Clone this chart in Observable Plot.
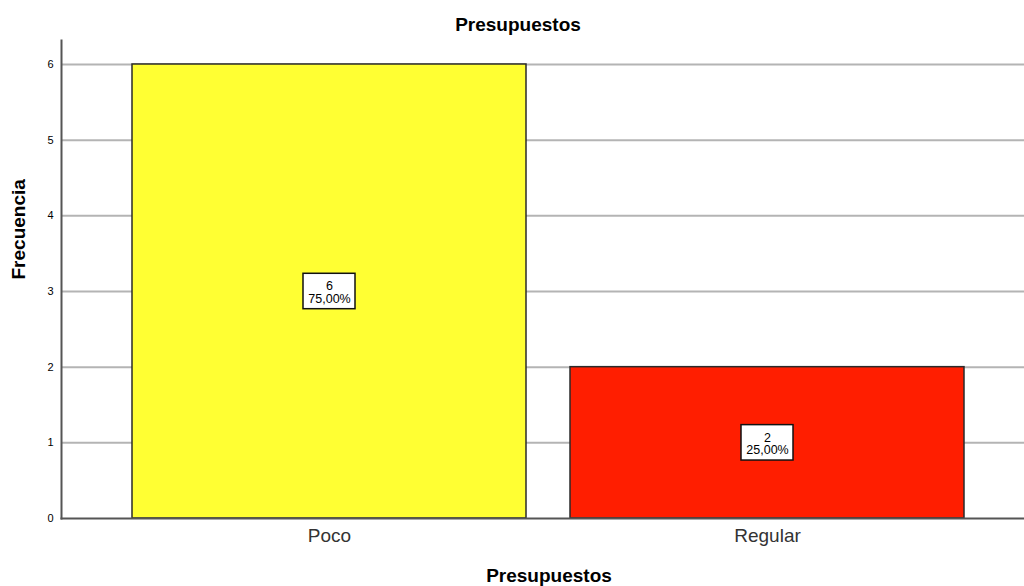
<!DOCTYPE html>
<html>
<head>
<meta charset="utf-8">
<script src="https://cdn.jsdelivr.net/npm/d3@7"></script>
<script src="https://cdn.jsdelivr.net/npm/@observablehq/plot@0.6"></script>
<style>
  html, body { margin: 0; padding: 0; background: #fff; }
  #chart svg { display: block; }
</style>
</head>
<body>
<div id="chart"></div>
<script>
const categories = ["Poco", "Regular"];
const counts = [6, 2];
const percentLabels = ["75,00%", "25,00%"];
const barColors = ["#ffff33", "#ff1e00"];
const yTicks = [0, 1, 2, 3, 4, 5, 6];
const gridTicks = [1, 2, 3, 4, 5, 6];
const chartTitle = "Presupuestos";
const xTitle = "Presupuestos";
const yTitle = "Frecuencia";

const data = categories.map((c, i) => ({
  cat: c, n: counts[i], pct: percentLabels[i], color: barColors[i],
  label: counts[i] + "\n" + percentLabels[i]
}));

const boxHalf = 0.234; // half-height of the label box, in frequency units

const font = "Liberation Sans, Arial, sans-serif";

const chart = Plot.plot({
  width: 1024,
  height: 586,
  marginTop: 40,
  marginBottom: 68,
  marginLeft: 61,
  marginRight: 0,
  style: { fontFamily: font, background: "#fff" },
  x: { type: "band", domain: categories, range: [88, 1008], padding: 0.1, label: null },
  y: { domain: [0, 6.317], label: null },
  marks: [
    Plot.ruleY(gridTicks, { stroke: "#b4b4b4", strokeWidth: 2 }),
    Plot.barY(data, {
      x: "cat", y: "n", fill: "color",
      stroke: "#2a2a2a", strokeWidth: 1.5
    }),
    Plot.barY(data, {
      x: "cat",
      y1: d => d.n / 2 - boxHalf,
      y2: d => d.n / 2 + boxHalf,
      fill: "#fff", stroke: "#111", strokeWidth: 1.5,
      insetLeft: 171, insetRight: 171
    }),
    Plot.text(data, {
      x: "cat", y: d => d.n / 2, text: "label",
      fontSize: 12.5, lineHeight: 1, fill: "#000", dy: 1
    }),
    Plot.frame({ anchor: "left", stroke: "#555", strokeWidth: 2 }),
    Plot.frame({ anchor: "bottom", stroke: "#555", strokeWidth: 2 }),
    Plot.axisY({ ticks: yTicks, tickSize: 0, tickPadding: 8, fontSize: 11, fill: "#000", label: null, tickFormat: d => String(d) }),
    Plot.axisX({ tickSize: 0, tickPadding: 10, fontSize: 19, fill: "#333", label: null }),
    Plot.text([chartTitle], { frameAnchor: "top", lineAnchor: "middle", dx: -25, dy: -16, fontSize: 19, fontWeight: "bold", fill: "#000" }),
    Plot.text([xTitle], { frameAnchor: "bottom", lineAnchor: "middle", dx: 6, dy: 57, fontSize: 19, fontWeight: "bold", fill: "#000" }),
    Plot.text([yTitle], { frameAnchor: "left", lineAnchor: "middle", dx: -43, rotate: -90, fontSize: 19, fontWeight: "bold", fill: "#000" })
  ]
});

document.getElementById("chart").appendChild(chart);
</script>
</body>
</html>
